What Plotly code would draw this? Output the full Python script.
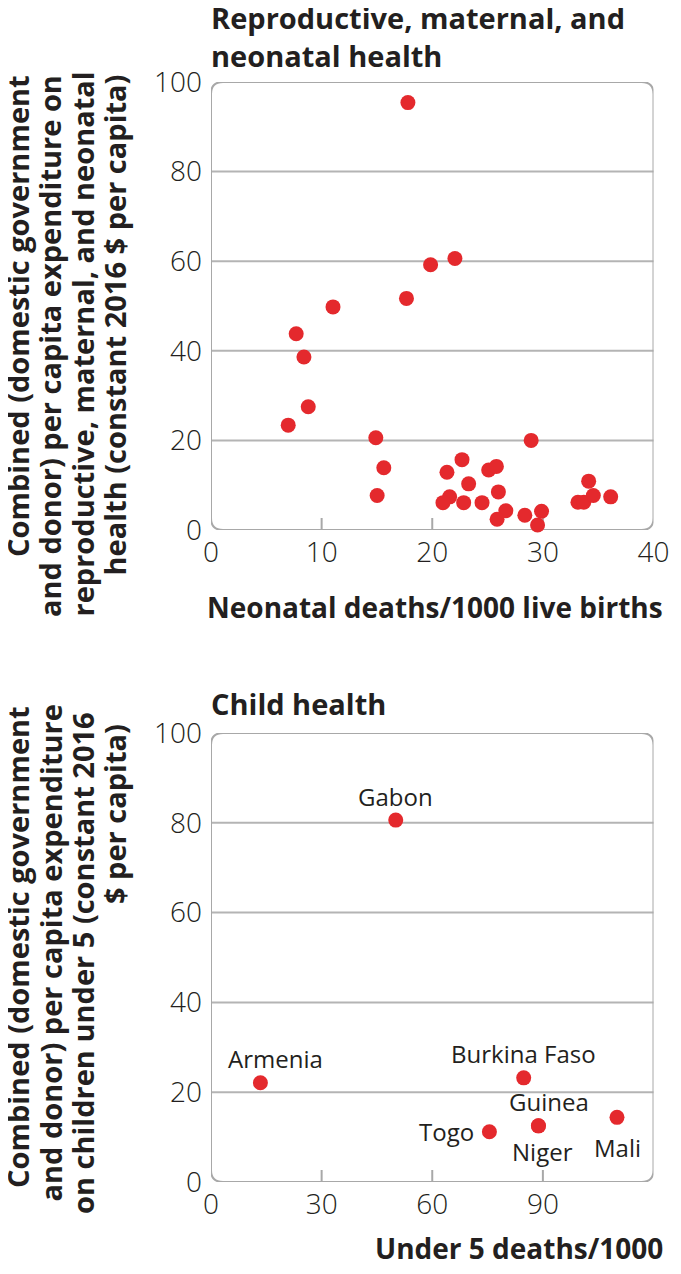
import plotly.graph_objects as go

# ---------------- data ----------------
neo_deaths = [17.8, 19.85, 22.05, 17.67, 11.03, 7.70, 8.40, 8.79, 6.98, 14.9, 28.94,
              15.62, 15.02, 22.69, 21.33, 23.29, 25.1, 25.8, 25.98, 21.57, 20.97,
              22.84, 24.5, 26.65, 25.86, 28.37, 29.88, 29.52, 33.17, 33.7, 34.14,
              34.56, 36.13]
rmnh_spend = [95.4, 59.2, 60.6, 51.7, 49.8, 43.8, 38.6, 27.5, 23.4, 20.6, 20.0,
              13.9, 7.7, 15.7, 12.9, 10.3, 13.4, 14.2, 8.5, 7.4, 6.1,
              6.1, 6.1, 4.3, 2.4, 3.3, 4.2, 1.1, 6.2, 6.2, 10.9,
              7.7, 7.4]

countries = ["Gabon", "Armenia", "Burkina Faso", "Togo", "Guinea", "Niger", "Mali"]
u5_deaths = [50.1, 13.4, 84.8, 75.5, 88.8, 88.8, 110.1]
child_spend = [80.6, 22.1, 23.2, 11.2, 12.5, 12.5, 14.4]

y_ticks = [0, 20, 40, 60, 80, 100]
x_ticks_top = [0, 10, 20, 30, 40]
x_ticks_bottom = [0, 30, 60, 90, 120]

title_top = ["Reproductive, maternal, and", "neonatal health"]
title_bottom = ["Child health"]
xtitle_top = "Neonatal deaths/1000 live births"
xtitle_bottom = "Under 5 deaths/1000"
ytitle_top = ["Combined (domestic government", "and donor) per capita expenditure on",
              "reproductive, maternal, and neonatal", "health (constant 2016 $ per capita)"]
ytitle_bottom = ["Combined (domestic government", "and donor) per capita expenditure",
                 "on children under 5 (constant 2016", "$ per capita)"]

# ---------------- style / geometry ----------------
OFF = 8                      # page body margin
W, H = 681 - 2 * OFF, 1274 - 2 * OFF

RED = "#e4292d"
TXT = "#231f20"
GRID = "#b4b4b4"
BOX = "#a8a8a8"
FONT = "Open Sans"

PX_L, PX_R = 211, 653.5
TOP_T, TOP_B = 82, 530
BOT_T, BOT_B = 733, 1182


def pxx(p):
    return (p - OFF) / W


def pxy(p):
    return 1 - (p - OFF) / H


fig = go.Figure()

fig.add_trace(go.Scatter(x=neo_deaths, y=rmnh_spend, mode="markers",
                         marker=dict(size=15, color=RED, line=dict(width=0)),
                         cliponaxis=False, xaxis="x", yaxis="y", showlegend=False))
fig.add_trace(go.Scatter(x=u5_deaths, y=child_spend, mode="markers",
                         marker=dict(size=15, color=RED, line=dict(width=0)),
                         cliponaxis=False, xaxis="x2", yaxis="y2", showlegend=False))

tickfont = dict(family=FONT, size=28, color=TXT, weight=300)


def xaxis_cfg(rng, ticks, anchor):
    return dict(domain=[pxx(PX_L), pxx(PX_R)], range=rng, tickvals=ticks, anchor=anchor,
                showgrid=False, zeroline=False, showline=False, ticks="",
                tickfont=tickfont, ticklabelstandoff=3, fixedrange=True,
                automargin=False)


def yaxis_cfg(dom, anchor):
    return dict(domain=dom, range=[0, 100], tickvals=y_ticks, anchor=anchor,
                showgrid=False, zeroline=False, showline=False, ticks="",
                tickfont=tickfont, ticklabelstandoff=8, fixedrange=True,
                automargin=False)


fig.update_layout(
    width=W, height=H,
    margin=dict(l=0, r=0, t=0, b=0, autoexpand=False),
    paper_bgcolor="white", plot_bgcolor="white",
    xaxis=xaxis_cfg([0, 40], x_ticks_top, "y"),
    yaxis=yaxis_cfg([pxy(TOP_B), pxy(TOP_T)], "x"),
    xaxis2=xaxis_cfg([0, 120], x_ticks_bottom, "y2"),
    yaxis2=yaxis_cfg([pxy(BOT_B), pxy(BOT_T)], "x2"),
    showlegend=False,
)

shapes = []
R_PX = 12
plot_w = PX_R - PX_L


def rounded_box(xr, yr, ph, xmax, ymax):
    rx = R_PX * xmax / plot_w
    ry = R_PX * ymax / ph
    x0, x1, y0, y1 = 0, xmax, 0, ymax
    path = (f"M {x0+rx},{y0} L {x1-rx},{y0} Q {x1},{y0} {x1},{y0+ry} "
            f"L {x1},{y1-ry} Q {x1},{y1} {x1-rx},{y1} "
            f"L {x0+rx},{y1} Q {x0},{y1} {x0},{y1-ry} "
            f"L {x0},{y0+ry} Q {x0},{y0} {x0+rx},{y0} Z")
    return dict(type="path", path=path, xref=xr, yref=yr,
                line=dict(color=BOX, width=2), layer="below")


for xr, yr, xmax, ph, xt in [("x", "y", 40, TOP_B - TOP_T, x_ticks_top),
                             ("x2", "y2", 120, BOT_B - BOT_T, x_ticks_bottom)]:
    for v in y_ticks[1:-1]:
        shapes.append(dict(type="line", xref=f"{xr} domain", yref=yr, x0=0, x1=1,
                           y0=v, y1=v, line=dict(color=GRID, width=2), layer="below"))
    for v in xt[1:-1]:
        shapes.append(dict(type="line", xref=xr, yref=f"{yr} domain", x0=v, x1=v,
                           y0=0, y1=12 / ph, line=dict(color=BOX, width=2), layer="below"))
    shapes.append(rounded_box(xr, yr, ph, xmax, 100))

fig.update_layout(shapes=shapes)

ann = []
tbold = dict(family=FONT, size=29, color=TXT, weight="bold")
bold = dict(family=FONT, size=28, color=TXT, weight="bold")
# panel titles
ann.append(dict(text="<br>".join(title_top), x=pxx(209), y=pxy(37), xref="paper",
                yref="paper", xanchor="left", yanchor="middle", align="left",
                showarrow=False, font=tbold))
ann.append(dict(text="<br>".join(title_bottom), x=pxx(209), y=pxy(704), xref="paper",
                yref="paper", xanchor="left", yanchor="middle", align="left",
                showarrow=False, font=tbold))
# x titles
ann.append(dict(text=xtitle_top, x=pxx(665), y=pxy(607), xref="paper", yref="paper",
                xanchor="right", yanchor="middle", showarrow=False, font=bold))
ann.append(dict(text=xtitle_bottom, x=pxx(665), y=pxy(1248), xref="paper", yref="paper",
                xanchor="right", yanchor="middle", showarrow=False, font=bold))
# y titles (one annotation per line)
ybold = dict(family=FONT, size=29, color=TXT, weight="bold")
col_x = [18, 50, 82, 114]
for lines, tops in [(ytitle_top, [73, 73, 70, 73]), (ytitle_bottom, [704, 703, 710, 722])]:
    for t, cx, ty in zip(lines, col_x, tops):
        ann.append(dict(text=t, x=pxx(cx), y=pxy(ty), xref="paper", yref="paper",
                        xanchor="center", yanchor="top", textangle=-90,
                        showarrow=False, font=ybold))

# point labels
lab_font = dict(family=FONT, size=24, color=TXT)
offsets = {"Gabon": (0, 24, "center"), "Armenia": (15, 24, "center"),
           "Burkina Faso": (0, 24, "center"), "Togo": (-13, 0, "right"),
           "Guinea": (11, 24, "center"), "Niger": (4, -26, "center"),
           "Mali": (1, -30, "center")}
for c, xv, yv in zip(countries, u5_deaths, child_spend):
    dx, dy, xa = offsets[c]
    ann.append(dict(text=c, x=xv, y=yv, xref="x2", yref="y2", xanchor=xa,
                    yanchor="middle", xshift=dx, yshift=dy, showarrow=False,
                    font=lab_font))

fig.update_layout(annotations=ann)

fig.write_html("out.html")
